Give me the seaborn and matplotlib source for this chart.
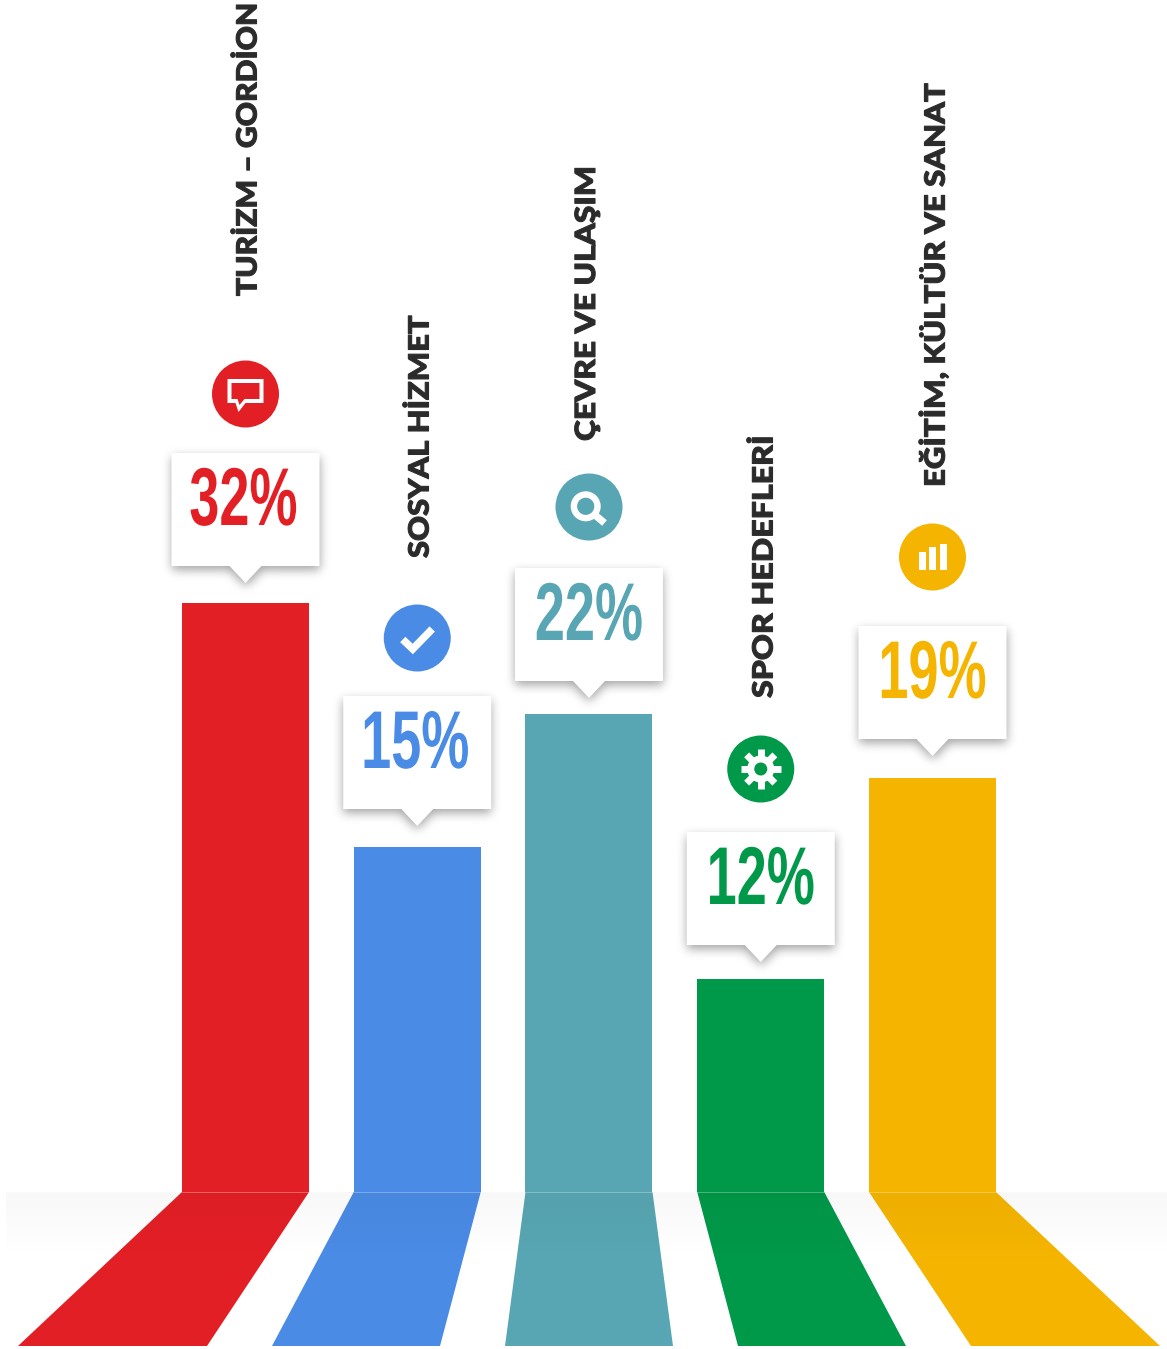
import numpy as np
import pandas as pd
import seaborn as sns
import matplotlib
matplotlib.use("Agg")
import matplotlib.pyplot as plt
from matplotlib.patches import Circle, Polygon, Rectangle
from matplotlib.path import Path
from matplotlib.patheffects import AbstractPathEffect
from matplotlib.transforms import Affine2D

# ---- data ----
categories = ["TURİZM – GORDİON", "SOSYAL HİZMET", "ÇEVRE VE ULAŞIM", "SPOR HEDEFLERİ", "EĞİTİM, KÜLTÜR VE SANAT"]
percent_labels = ["32%", "15%", "22%", "12%", "19%"]
bar_heights = [589, 345, 478, 213, 414]   # drawn heights, not proportional to the percentages
colors = ["#E31F26", "#4A8BE5", "#58A6B3", "#009849", "#F4B400"]
foot_left = [18, 272, 505, 738, 971]
foot_right = [207, 440, 673, 906, 1160]
label_bottom = [296, 558, 441, 698, 487]
label_x = [248, 420, 587, 764, 934]
label_stretch = [1.083, 1.113, 1.14, 1.157, 1.12]
icon_y = [394, 638, 507, 769, 557]
box_top = [453, 696, 568, 832, 626]

W, H = 1167, 1349
BASE = 1192
FIRST, STEP, BAR_PX = 245.5, 171.75, 127

class Stretch(AbstractPathEffect):
    """Scales glyph outlines about an anchor, with an optional outline to embolden them."""
    def __init__(self, sx, sy, anchor, bold=0.0):
        super().__init__()
        self.sx, self.sy, self.anchor, self.bold = sx, sy, anchor, bold
    def draw_path(self, renderer, gc, tpath, affine, rgbFace=None):
        a, b = self.anchor
        t = affine + Affine2D().translate(-a, -b).scale(self.sx, self.sy).translate(a, b)
        if self.bold > 0:
            gc0 = renderer.new_gc()
            gc0.copy_properties(gc)
            gc0.set_linewidth(self.bold)
            gc0.set_foreground(rgbFace)
            renderer.draw_path(gc0, tpath, t, rgbFace)
            gc0.restore()
        else:
            renderer.draw_path(gc, tpath, t, rgbFace)

sns.set_theme(style="white")
fig = plt.figure(figsize=(W / 100, H / 100), dpi=100, facecolor="white")

# bars through seaborn
ax = fig.add_axes([0, 0, 1, 1])
df = pd.DataFrame({"category": categories, "height": bar_heights})
sns.barplot(data=df, x="category", y="height", hue="category", palette=colors, order=categories,
            hue_order=categories, width=BAR_PX / STEP, saturation=1, legend=False, ax=ax, linewidth=0)
ax.set_xlim(-FIRST / STEP, (W - FIRST) / STEP)
ax.set_ylim(-(H - BASE), BASE)
ax.axis("off")

# overlay in reference pixel coordinates
ov = fig.add_axes([0, 0, 1, 1], zorder=3)
ov.set_xlim(0, W)
ov.set_ylim(H, 0)
ov.patch.set_alpha(0)
ov.axis("off")

FOOT = 1346
for i, c in enumerate(colors):
    cx = FIRST + STEP * i
    ov.add_patch(Polygon([(cx - BAR_PX / 2, BASE), (cx + BAR_PX / 2, BASE), (foot_right[i], FOOT), (foot_left[i], FOOT)],
                         closed=True, fc=c, ec="none", zorder=1))

# floor gradient
grad = np.zeros((70, 2, 4))
grad[..., 3] = np.linspace(0.03, 0.0, 70)[:, None]
ov.imshow(grad, extent=(6, W, 1262, BASE), aspect="auto", interpolation="bilinear", zorder=2)
for i in range(len(colors)):
    cx = FIRST + STEP * i
    ov.plot([cx - BAR_PX / 2, cx + BAR_PX / 2], [BASE, BASE], color="white", lw=0.7, alpha=0.3, zorder=3)

def callout_pts(cx, t):
    l, r = cx - 74, cx + 74
    b = t + 113
    return [(l, t), (r, t), (r, b), (cx + 16, b), (cx, t + 130), (cx - 16, b), (l, b)]

def blur(a, sigma):
    r = int(3 * sigma)
    k = np.exp(-0.5 * (np.arange(-r, r + 1) / sigma) ** 2)
    k /= k.sum()
    a = np.apply_along_axis(lambda v: np.convolve(v, k, mode="same"), 0, a)
    return np.apply_along_axis(lambda v: np.convolve(v, k, mode="same"), 1, a)

def draw_shadow(cx, t, sigma=5.0, dy=4.0, strength=0.36):
    x0, x1 = cx - 100, cx + 100
    y0, y1 = t - 25, t + 175
    xs, ys = np.meshgrid(np.arange(x0, x1) + 0.5, np.arange(y0, y1) + 0.5)
    pts = np.column_stack([xs.ravel(), ys.ravel() - dy])
    mask = Path(callout_pts(cx, t)).contains_points(pts).reshape(xs.shape).astype(float)
    img = np.zeros(mask.shape + (4,))
    img[..., 3] = blur(mask, sigma) * strength
    ov.imshow(img, extent=(x0, x1, y1, y0), aspect="auto", interpolation="nearest", zorder=4)

def draw_icon(i, cx, cy, c):
    z = 6
    if i == 0:
        ov.add_patch(Polygon([(cx - 18, cy - 15), (cx + 18, cy - 15), (cx + 18, cy + 9), (cx + 0, cy + 9),
                              (cx - 7, cy + 18), (cx - 10, cy + 9), (cx - 18, cy + 9)], fc="white", ec="none", zorder=z))
        ov.add_patch(Polygon([(cx - 14, cy - 11), (cx + 14, cy - 11), (cx + 14, cy + 5), (cx - 1, cy + 5),
                              (cx - 6, cy + 11), (cx - 8, cy + 5), (cx - 14, cy + 5)], fc=c, ec="none", zorder=z + 1))
    elif i == 1:
        ov.plot([cx - 14.5, cx - 4.5, cx + 15], [cy + 1.5, cy + 11, cy - 9], color="white", lw=5.4,
                solid_capstyle="butt", solid_joinstyle="miter", zorder=z)
    elif i == 2:
        ov.add_patch(Circle((cx - 3.3, cy - 0.7), 11.8, fc="none", ec="white", lw=4.6, zorder=z))
        ov.plot([cx + 6, cx + 15.5], [cy + 8, cy + 16], color="white", lw=5.2, solid_capstyle="butt", zorder=z)
    elif i == 3:
        for ang in (0, 45, 90, 135):
            d = 20 * np.array([np.cos(np.radians(ang)), np.sin(np.radians(ang))])
            ov.plot([cx - d[0], cx + d[0]], [cy - d[1], cy + d[1]], color="white", lw=5, solid_capstyle="butt", zorder=z)
        ov.add_patch(Circle((cx, cy), 13.5, fc="white", ec="none", zorder=z))
        ov.add_patch(Circle((cx, cy), 6.5, fc=c, ec="none", zorder=z + 1))
    else:
        for x0, y0, y1 in ((-13.7, -4.7, 13.3), (-3.7, -9.7, 12.7), (7.3, -13.3, 13.3)):
            ov.add_patch(Rectangle((cx + x0, cy + y0), 7, y1 - y0, fc="white", ec="none", zorder=z))

for i, c in enumerate(colors):
    cx = FIRST + STEP * i
    t = box_top[i]
    draw_shadow(cx, t)
    ov.add_patch(Polygon(callout_pts(cx, t), fc="white", ec="none", zorder=5))
    # percentage
    tx, ty = cx - 2 + (2 if i > 1 else 0), t + 51
    anchor = ov.transData.transform((tx, ty))
    ov.text(tx, ty, percent_labels[i], color=c, fontsize=59, fontweight="bold", ha="center", va="center",
            family=["Liberation Sans Narrow", "Liberation Sans"], zorder=6,
            path_effects=[Stretch(0.66, 1.0, anchor)])
    # icon
    ov.add_patch(Circle((cx, icon_y[i]), 33.5, fc=c, ec="none", zorder=5))
    draw_icon(i, cx, icon_y[i], c)
    # category label
    lx, ly = label_x[i], label_bottom[i]
    anchor = ov.transData.transform((lx, ly))
    ov.text(lx, ly, categories[i], color="#2b2b2b", fontsize=20, fontweight="black", rotation=90,
            ha="center", va="bottom", family=["Lato", "DejaVu Sans"], zorder=6,
            path_effects=[Stretch(1.0, label_stretch[i], anchor, bold=0.8)])

ov.set_xlim(0, W)
ov.set_ylim(H, 0)
fig.savefig("out.png", dpi=100, facecolor="white")
